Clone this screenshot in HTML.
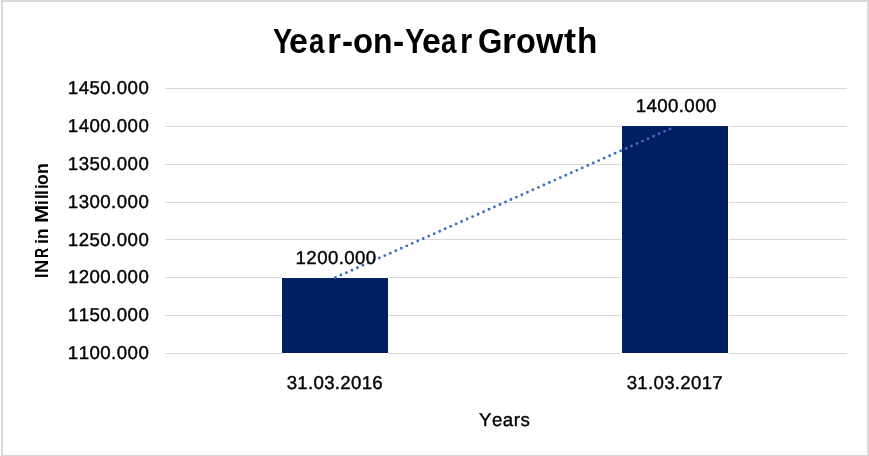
<!DOCTYPE html>
<html>
<head>
<meta charset="utf-8">
<title>Year-on-Year Growth</title>
<style>
html,body{margin:0;padding:0;background:#fff;}
body{width:869px;height:456px;overflow:hidden;}
svg{display:block;}
text{font-family:"Liberation Sans",sans-serif;fill:#000;font-kerning:none;text-rendering:geometricPrecision;}
.n{font-size:18.67px;stroke:#000;stroke-width:0.4px;}
.b{font-weight:bold;}
body{position:relative;}
#title{position:absolute;left:0;top:20.7px;width:869px;height:40px;font:bold 34.6px/40px "Liberation Sans",sans-serif;color:#000;font-kerning:none;white-space:pre;}
#ytitle{position:absolute;left:29.56px;top:278px;width:130px;height:24px;font:bold 18.6px/24px "Liberation Sans",sans-serif;color:#000;font-kerning:none;white-space:pre;transform-origin:0 0;transform:rotate(-90deg);}
#title span,#ytitle span{position:absolute;top:0;display:block;transform-origin:0 0;}
</style>
</head>
<body>
<svg width="869" height="456" viewBox="0 0 869 456">
  <rect x="0" y="0" width="869" height="456" fill="#ffffff"/>
  <!-- frame -->
  <rect x="1" y="0" width="868" height="2" fill="#d9d9d9"/>
  <rect x="1" y="0" width="2" height="456" fill="#d9d9d9"/>
  <rect x="867" y="0" width="2" height="456" fill="#d9d9d9"/>
  <rect x="1" y="455" width="868" height="1" fill="#d9d9d9"/>
  <!-- gridlines -->
  <g fill="#d9d9d9">
    <rect x="165" y="88" width="682" height="1"/>
    <rect x="165" y="126" width="682" height="1"/>
    <rect x="165" y="164" width="682" height="1"/>
    <rect x="165" y="202" width="682" height="1"/>
    <rect x="165" y="239" width="682" height="1"/>
    <rect x="165" y="277" width="682" height="1"/>
    <rect x="165" y="315" width="682" height="1"/>
    <rect x="165" y="353" width="682" height="1"/>
  </g>
  <!-- bars -->
  <rect x="282" y="277" width="106" height="77" fill="#ffffff"/>
  <rect x="282" y="278" width="106" height="75" fill="#002060"/>
  <rect x="621" y="125" width="108" height="229" fill="#ffffff"/>
  <rect x="622" y="126" width="106" height="227" fill="#002060"/>
  <!-- trendline -->
  <line x1="335.5" y1="277.5" x2="673" y2="127.6" stroke="#3d6cc4" stroke-width="2.9" stroke-linecap="round" stroke-dasharray="0 6"/>
  <!-- title -->
  <!-- y labels -->
  <g class="n" text-anchor="end">
    <text x="148.8" y="94.3" textLength="81" lengthAdjust="spacing">1450.000</text>
    <text x="148.8" y="132.3" textLength="81" lengthAdjust="spacing">1400.000</text>
    <text x="148.8" y="170.3" textLength="81" lengthAdjust="spacing">1350.000</text>
    <text x="148.8" y="208.3" textLength="81" lengthAdjust="spacing">1300.000</text>
    <text x="148.8" y="246.3" textLength="81" lengthAdjust="spacing">1250.000</text>
    <text x="148.8" y="283.3" textLength="81" lengthAdjust="spacing">1200.000</text>
    <text x="148.8" y="321.3" textLength="81" lengthAdjust="spacing">1150.000</text>
    <text x="148.8" y="359.3" textLength="81" lengthAdjust="spacing">1100.000</text>
  </g>
  <!-- axis title -->
  <!-- data labels -->
  <text id="d1" class="n" x="335.9" y="264.2" text-anchor="middle" textLength="80.6" lengthAdjust="spacing">1200.000</text>
  <text id="d2" class="n" x="676.0" y="112.3" text-anchor="middle" textLength="80.6" lengthAdjust="spacing">1400.000</text>
  <!-- category labels -->
  <text id="c1" class="n" x="334.7" y="389.4" text-anchor="middle" textLength="96" lengthAdjust="spacing">31.03.2016</text>
  <text id="c2" class="n" x="674.7" y="389.4" text-anchor="middle" textLength="96" lengthAdjust="spacing">31.03.2017</text>
  <text id="xt" class="n" x="504.4" y="426.3" text-anchor="middle" textLength="51" lengthAdjust="spacing">Years</text>
</svg>
<div id="title"><span style="left:272.5px;transform:scaleX(0.830)">Y</span><span style="left:288.7px;transform:scaleX(0.982)">e</span><span style="left:308.5px;transform:scaleX(0.802)">a</span><span style="left:326.6px;transform:scaleX(1.032)">r</span><span style="left:341.6px;transform:scaleX(0.956)">-</span><span style="left:353.0px;transform:scaleX(0.955)">o</span><span style="left:373.3px;transform:scaleX(0.922)">n</span><span style="left:393.1px;transform:scaleX(0.968)">-</span><span style="left:405.3px;transform:scaleX(0.848)">Y</span><span style="left:421.6px;transform:scaleX(0.976)">e</span><span style="left:441.3px;transform:scaleX(0.802)">a</span><span style="left:459.5px;transform:scaleX(0.910)">r</span><span style="left:472px"> </span><span style="left:478.3px;transform:scaleX(0.904)">G</span><span style="left:502.3px;transform:scaleX(1.032)">r</span><span style="left:516.1px;transform:scaleX(0.939)">o</span><span style="left:535.8px;transform:scaleX(1.015)">w</span><span style="left:564.2px;transform:scaleX(1.049)">t</span><span style="left:577.1px;transform:scaleX(0.965)">h</span></div>
<div id="ytitle"><span style="left:-0.4px;transform:scaleX(0.858)">I</span><span style="left:5.4px;transform:scaleX(0.988)">N</span><span style="left:20.2px;transform:scaleX(0.745)">R</span><span style="left:34px"> </span><span style="left:34.4px;transform:scaleX(0.980)">i</span><span style="left:39.4px;transform:scaleX(0.924)">n</span><span style="left:53px"> </span><span style="left:55.3px;transform:scaleX(1.176)">M</span><span style="left:73.4px;transform:scaleX(0.901)">i</span><span style="left:78.6px;transform:scaleX(0.901)">l</span><span style="left:83.1px;transform:scaleX(0.940)">l</span><span style="left:88.5px;transform:scaleX(0.901)">i</span><span style="left:93.4px;transform:scaleX(0.949)">o</span><span style="left:104.4px;transform:scaleX(0.957)">n</span></div>
</body>
</html>
